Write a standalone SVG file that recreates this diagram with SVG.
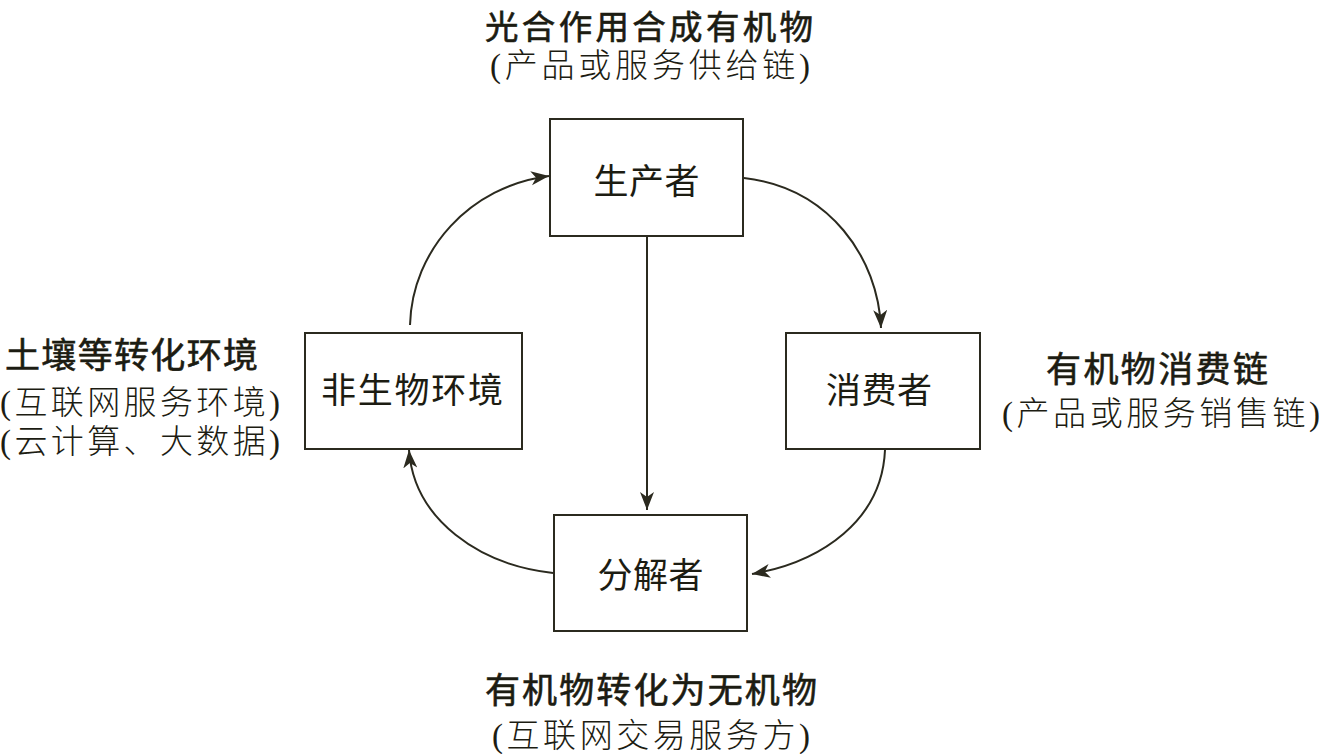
<svg xmlns="http://www.w3.org/2000/svg" width="1320" height="754" viewBox="0 0 1320 754">
<style>
.box{fill:#fff;stroke:#2b2a1f;stroke-width:2}
.t{font-family:"Noto Sans CJK SC","Noto Sans",sans-serif;fill:#1c1c12;text-anchor:middle}
.n{font-size:35px}
.h{font-size:35px;font-weight:normal;stroke:#1c1c12;stroke-width:0.6}
.s{font-family:"Liberation Serif","Noto Sans CJK SC",serif;font-size:33px;font-weight:300}
.c{fill:none;stroke:#2b2a1f;stroke-width:2}
</style>
<defs>
<marker id="ah" markerUnits="userSpaceOnUse" markerWidth="20" markerHeight="16" refX="18" refY="7" orient="auto">
<path d="M0,0 L18,7 L0,14 L5,7 Z" fill="#2b2a1f"/>
</marker>
</defs>
<rect width="1320" height="754" fill="#fff"/>
<g id="connectors">
<path class="c" d="M744,178 C830,188 878,258 881,328" marker-end="url(#ah)"/>
<path class="c" d="M885,450 C882,520 822,562 752,574" marker-end="url(#ah)"/>
<path class="c" d="M553,573 C480,565 414,520 409,450" marker-end="url(#ah)"/>
<path class="c" d="M410,325 C412,250 470,186 549,176" marker-end="url(#ah)"/>
<path class="c" d="M647,236 L647,510" marker-end="url(#ah)"/>
</g>
<g id="producer">
<rect class="box" x="550" y="119" width="193" height="117"/>
<text class="t n" x="646.5" y="194" textLength="106">生产者</text>
</g>
<g id="consumer">
<rect class="box" x="786" y="333" width="194" height="116"/>
<text class="t n" x="879" y="403" textLength="106">消费者</text>
</g>
<g id="decomposer">
<rect class="box" x="554" y="515" width="193" height="116"/>
<text class="t n" x="650.5" y="588" textLength="106">分解者</text>
</g>
<g id="abiotic">
<rect class="box" x="305" y="333" width="217" height="116"/>
<text class="t n" x="412" y="403" textLength="182">非生物环境</text>
</g>
<g id="label-top">
<text class="t h" x="649" y="39" style="font-size:33.5px" textLength="328">光合作用合成有机物</text>
<text class="t s" x="650" y="77" textLength="320">(产品或服务供给链)</text>
</g>
<g id="label-left">
<text class="t h" x="131.5" y="368" textLength="253">土壤等转化环境</text>
<text class="t s" x="140" y="414" textLength="280">(互联网服务环境)</text>
<text class="t s" x="140" y="453" textLength="280">(云计算、大数据)</text>
</g>
<g id="label-right">
<text class="t h" x="1157" y="382" textLength="222">有机物消费链</text>
<text class="t s" x="1161" y="425" textLength="318">(产品或服务销售链)</text>
</g>
<g id="label-bottom">
<text class="t h" x="651" y="703" textLength="332">有机物转化为无机物</text>
<text class="t s" x="651" y="747" textLength="318">(互联网交易服务方)</text>
</g>
</svg>
